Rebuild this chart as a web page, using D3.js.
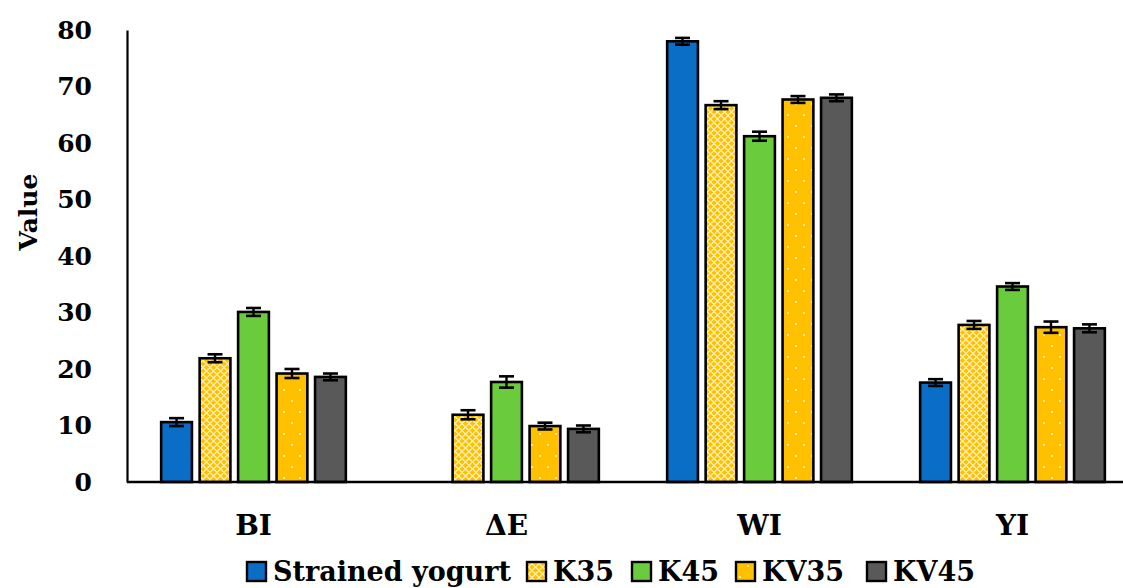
<!DOCTYPE html>
<html>
<head>
<meta charset="utf-8">
<script src="https://cdn.jsdelivr.net/npm/d3@7"></script>
<style>
  html, body { margin: 0; padding: 0; background: #fff; }
  svg { display: block; }
  svg text { font-family: 'DejaVu Serif'; font-weight: bold; fill: #000; }
</style>
</head>
<body>
<svg id="chart" width="1123" height="588"></svg>
<script>
const categories = ["BI", "\u0394E", "WI", "YI"];
const seriesNames = ["Strained yogurt", "K35", "K45", "KV35", "KV45"];
const strainedYogurt = [10.6, 0, 78.0, 17.6];
const k35 = [21.9, 11.9, 66.7, 27.8];
const k45 = [30.1, 17.7, 61.2, 34.6];
const kv35 = [19.2, 9.9, 67.7, 27.4];
const kv45 = [18.6, 9.4, 68.0, 27.2];
const errStrained = [0.7, 0, 0.6, 0.6];
const errK35 = [0.7, 0.8, 0.7, 0.7];
const errK45 = [0.7, 1.0, 0.8, 0.6];
const errKV35 = [0.8, 0.6, 0.6, 1.0];
const errKV45 = [0.6, 0.6, 0.6, 0.7];
const yTicks = [0, 10, 20, 30, 40, 50, 60, 70, 80];

const seriesValues = [strainedYogurt, k35, k45, kv35, kv45];
const seriesErrors = [errStrained, errK35, errK45, errKV35, errKV45];
const fills = ["#0A6DC6", "url(#patK35)", "#6ACC3D", "url(#patKV35)", "#595959"];
const FONT = "'DejaVu Serif'";

const svg = d3.select("#chart");
const defs = svg.append("defs");

// K35 lattice pattern
const p1 = defs.append("pattern").attr("id", "patK35").attr("patternUnits", "userSpaceOnUse")
  .attr("width", 7).attr("height", 7);
p1.append("rect").attr("width", 7).attr("height", 7).attr("fill", "#FFC000");
p1.append("path").attr("d", "M0,3.5 L3.5,0 L7,3.5 L3.5,7 Z")
  .attr("fill", "none").attr("stroke", "#FFEFB0").attr("stroke-width", 1.3);

// KV35 dotted pattern
const p2 = defs.append("pattern").attr("id", "patKV35").attr("patternUnits", "userSpaceOnUse")
  .attr("width", 16).attr("height", 22);
p2.append("rect").attr("width", 16).attr("height", 22).attr("fill", "#FFC000");
p2.append("circle").attr("cx", 4).attr("cy", 5).attr("r", 1.1).attr("fill", "#FFF3C8");
p2.append("circle").attr("cx", 12).attr("cy", 16).attr("r", 1.1).attr("fill", "#FFF3C8");

const plotLeft = 127, plotRight = 1139, plotTop = 30, plotBottom = 482;

const y = d3.scaleLinear().domain([0, 80]).range([plotBottom, plotTop]);
const x0 = d3.scaleBand().domain(categories).range([plotLeft, plotRight])
  .paddingInner(0.27).paddingOuter(0.135);
const x1 = d3.scaleBand().domain(seriesNames).range([0, x0.bandwidth()]).paddingInner(0.2);

// bars
seriesNames.forEach((s, si) => {
  const g = svg.append("g");
  categories.forEach((c, ci) => {
    const v = seriesValues[si][ci];
    if (v <= 0) return;
    const bx = x0(c) + x1(s);
    g.append("rect")
      .attr("x", bx).attr("y", y(v))
      .attr("width", x1.bandwidth()).attr("height", y(0) - y(v))
      .attr("fill", fills[si]).attr("stroke", "#000").attr("stroke-width", 2.6);
    const e = seriesErrors[si][ci];
    const cx = bx + x1.bandwidth() / 2;
    const capW = 15;
    g.append("line").attr("x1", cx).attr("x2", cx).attr("y1", y(v + e)).attr("y2", y(v - e))
      .attr("stroke", "#000").attr("stroke-width", 2.4);
    [v + e, v - e].forEach(t => {
      g.append("line").attr("x1", cx - capW / 2).attr("x2", cx + capW / 2)
        .attr("y1", y(t)).attr("y2", y(t)).attr("stroke", "#000").attr("stroke-width", 2.6);
    });
  });
});

// y axis
const yAxis = d3.axisLeft(y).tickValues(yTicks).tickSize(0).tickPadding(35).tickFormat(d3.format("d"));
const ya = svg.append("g").attr("transform", `translate(${plotLeft},0)`).call(yAxis);
ya.attr("font-family", null).attr("font-size", null);
ya.select(".domain").attr("stroke", "#000").attr("stroke-width", 2.2);
ya.selectAll("text").style("font-family", FONT).style("font-weight", "bold")
  .style("font-size", "25px").attr("fill", "#000");

// x axis
const xAxis = d3.axisBottom(x0).tickSize(0).tickPadding(33);
const xa = svg.append("g").attr("transform", `translate(0,${plotBottom})`).call(xAxis);
xa.attr("font-family", null).attr("font-size", null);
xa.select(".domain").remove();
xa.append("line").attr("x1", plotLeft).attr("x2", 1123).attr("y1", 0).attr("y2", 0)
  .attr("stroke", "#000").attr("stroke-width", 2.4);
xa.selectAll("text").style("font-family", FONT).style("font-weight", "bold")
  .style("font-size", "28px").attr("fill", "#000");

// y label
svg.append("text").attr("transform", "translate(37,212) rotate(-90)")
  .attr("text-anchor", "middle").style("font-family", FONT).style("font-size", "25px").text("Value");

// legend
const legendX = [247, 527, 632, 736, 867];
const lg = svg.append("g");
seriesNames.forEach((s, i) => {
  lg.append("rect").attr("x", legendX[i]).attr("y", 562).attr("width", 19).attr("height", 19)
    .attr("fill", fills[i]).attr("stroke", "#000").attr("stroke-width", 2.4);
  lg.append("text").attr("x", legendX[i] + 26).attr("y", 581)
    .style("font-family", FONT).style("font-size", "27px").text(s);
});
</script>
</body>
</html>
